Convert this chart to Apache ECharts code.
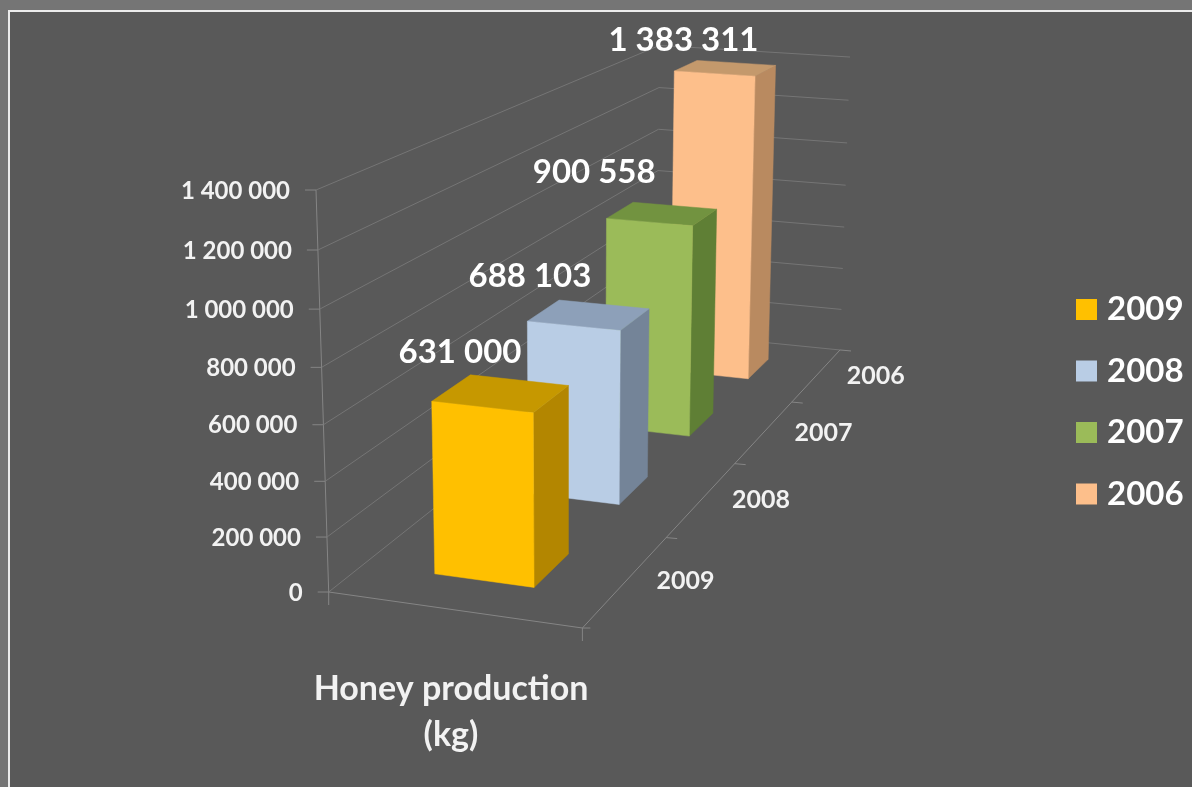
<!DOCTYPE html>
<html><head><meta charset="utf-8">
<style>html,body{margin:0;padding:0;background:#757575}#c{width:1192px;height:787px}</style>
<script src="https://cdn.jsdelivr.net/npm/echarts@6/dist/echarts.min.js"></script>
</head><body><div id="c"></div>
<script>
// ---- data ----
const years = ['2009', '2008', '2007', '2006'];
const values2009 = [631000];
const values2008 = [688103];
const values2007 = [900558];
const values2006 = [1383311];
const valueTicks = [0, 200000, 400000, 600000, 800000, 1000000, 1200000, 1400000];
const valueTickLabels = ['0', '200 000', '400 000', '600 000', '800 000', '1 000 000', '1 200 000', '1 400 000'];
const chartTitle = 'Honey production\n(kg)';

// ---- perspective of the 3D box: (u across, v depth, h height) -> pixels ----
const O = [328.7, 592], FR = [582.4, 628], BL = [656.3, 331.6], H = [316, 190];
const wu = 0.965, wv = 1.43, wh = 0.95;
function project(u, v, h) {
  const w = 1 + u * (wu - 1) + v * (wv - 1) + h * (wh - 1);
  return [0, 1].map(i => (O[i] + u * (wu * FR[i] - O[i]) + v * (wv * BL[i] - O[i]) + h * (wh * H[i] - O[i])) / w);
}
// grid-pixel -> normalised depth/height through ECharts' own scales
function toBox(params, api, yearIdx, val) {
  const p = api.coord([yearIdx, val]), g = params.coordSys;
  return { v: (p[0] - g.x) / g.width, h: (g.y + g.height - p[1]) / g.height, band: api.size([1, 0])[0] / g.width };
}
const FONT = 'Lato';
const BAR_U = [0.295, 0.698], DEPTH_SHARE = 0.38;

function poly(points, fill) {
  return { type: 'polygon', shape: { points }, style: { fill, stroke: fill, lineWidth: 0.5 } };
}
function barSeries(name, vals, colors, labelOffset) {
  const year = name;
  return {
    type: 'custom', name, coordinateSystem: 'cartesian2d', silent: true,
    itemStyle: { color: colors.front },
    encode: { x: 0, y: 1 },
    data: vals.map(v => [year, v]),
    renderItem(params, api) {
      const b = toBox(params, api, api.value(0), api.value(1));
      const v0 = b.v - b.band * DEPTH_SHARE / 2, v1 = b.v + b.band * DEPTH_SHARE / 2;
      const [u0, u1] = BAR_U;
      const top = project((u0 + u1) / 2, b.v, b.h);
      const text = String(api.value(1)).replace(/\B(?=(\d{3})+$)/g, ' ');
      return { type: 'group', children: [
        poly([project(u1, v0, 0), project(u1, v1, 0), project(u1, v1, b.h), project(u1, v0, b.h)], colors.side),
        poly([project(u0, v0, b.h), project(u1, v0, b.h), project(u1, v1, b.h), project(u0, v1, b.h)], colors.top),
        poly([project(u0, v0, 0), project(u1, v0, 0), project(u1, v0, b.h), project(u0, v0, b.h)], colors.front),
        { type: 'text', z2: 50, style: { text, x: top[0] + labelOffset[0], y: top[1] + labelOffset[1],
          align: 'center', verticalAlign: 'middle', fill: '#fff', font: 'bold 33px ' + FONT } }
      ] };
    }
  };
}
const line = (a, b, c) => ({ type: 'line', shape: { x1: a[0], y1: a[1], x2: b[0], y2: b[1] }, style: { stroke: c || '#757575', lineWidth: 1 } });
const EDGE = '#858585';

const wallSeries = {
  type: 'custom', coordinateSystem: 'cartesian2d', silent: true, encode: { x: 0, y: 1 },
  data: valueTicks.map((v, i) => [years[0], v, i]),
  renderItem(params, api) {
    const b = toBox(params, api, 0, api.value(1));
    const a = project(0, 0, b.h);
    const kids = [line(a, project(0, 1, b.h)), line(project(0, 1, b.h), project(1, 1, b.h)), line(a, [a[0] - 11, a[1]], EDGE),
      { type: 'text', style: { text: valueTickLabels[api.value(2)], x: a[0] - 26, y: a[1] + 1, align: 'right', verticalAlign: 'middle',
        fill: '#f2f2f2', font: 'bold 24px ' + FONT } }];
    if (api.value(2) === 0) {
      kids.push(line(a, project(0, 0, 1), EDGE), line(a, project(1, 0, 0), EDGE), line(project(1, 0, 0), project(1, 1, 0), EDGE),
        line(a, [a[0], a[1] + 13], EDGE));
      const r = project(1, 0, 0);
      kids.push(line(r, [r[0], r[1] + 13], EDGE), line(r, [r[0] + 8, r[1]], EDGE));
    }
    return { type: 'group', children: kids };
  }
};
const depthSeries = {
  type: 'custom', coordinateSystem: 'cartesian2d', silent: true, encode: { x: 0, y: 1 },
  data: years.map(y => [y, 0]),
  renderItem(params, api) {
    const b = toBox(params, api, api.value(0), 0);
    const end = project(1, b.v + b.band / 2, 0), mid = project(1, b.v, 0);
    return { type: 'group', children: [ line(end, [end[0] + 11, end[1] + 1], EDGE),
      { type: 'text', style: { text: years[params.dataIndex], x: mid[0] + 59, y: mid[1] + 1, align: 'center', verticalAlign: 'middle',
        fill: '#f2f2f2', font: 'bold 25px ' + FONT } } ] };
  }
};

const chart = echarts.init(document.getElementById('c'), null, { renderer: 'canvas' });
chart.setOption({
  animation: false,
  backgroundColor: '#757575',
  graphic: [{ type: 'rect', z: -10, shape: { x: 9, y: 11, width: 1300, height: 900 },
    style: { fill: '#595959', stroke: '#ececec', lineWidth: 2 } }],
  title: { text: chartTitle, left: 446, top: 661, textAlign: 'center',
    textStyle: { color: '#f2f2f2', fontFamily: FONT, fontWeight: 'bold', fontSize: 34, lineHeight: 46 } },
  legend: { data: ['2009', '2008', '2007', '2006'], orient: 'vertical', left: 1076, top: 291, icon: 'rect',
    itemWidth: 21, itemHeight: 21, itemGap: 24.5, padding: 0,
    textStyle: { color: '#fff', fontFamily: FONT, fontWeight: 'bold', fontSize: 33, lineHeight: 34, padding: [3, 0, 0, 5] } },
  grid: { left: 100, right: 100, top: 100, bottom: 100 },
  xAxis: { type: 'category', data: years, show: false },
  yAxis: { type: 'value', min: 0, max: 1400000, interval: 200000, show: false },
  series: [
    wallSeries, depthSeries,
    barSeries('2006', values2006, { front: '#FDBF8B', side: '#B98A60', top: '#C4996C' }, [-42, -28]),
    barSeries('2007', values2007, { front: '#9BBB59', side: '#5F7F35', top: '#729340' }, [-68, -41]),
    barSeries('2008', values2008, { front: '#B9CDE5', side: '#748498', top: '#8DA0B9' }, [-59, -39]),
    barSeries('2009', values2009, { front: '#FFC000', side: '#B38600', top: '#C69800' }, [-41, -41])
  ]
});
</script></body></html>
